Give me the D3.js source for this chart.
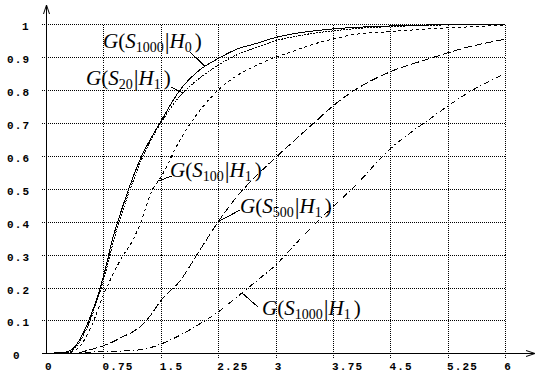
<!DOCTYPE html>
<html>
<head>
<meta charset="utf-8">
<script src="https://cdn.jsdelivr.net/npm/d3@7"></script>
<style>
  body { margin: 0; background: #fff; }
  svg { display: block; }
</style>
</head>
<body>
<div class="chartArea"></div>
<script>
// sample points along x, shared by all five curves
const xs = [0, 0.25, 0.375, 0.5, 0.625, 0.75, 0.875, 1, 1.125, 1.25, 1.375, 1.5,
            1.75, 2, 2.25, 2.5, 2.75, 3, 3.25, 3.5, 3.75, 4, 4.5, 5, 5.5, 6]

// G(S1000|H0) - solid
const h0S1000 = [0, 0.003, 0.02, 0.068, 0.14, 0.233, 0.352, 0.445, 0.528, 0.6, 0.655, 0.705,
                 0.8, 0.86, 0.896, 0.925, 0.942, 0.96, 0.972, 0.98, 0.986, 0.99, 0.995, 0.998, 0.999, 1]
// G(S20|H1) - fine dots
const h1S20 = [0, 0, 0.015, 0.06, 0.13, 0.222, 0.335, 0.432, 0.515, 0.59, 0.65, 0.7,
               0.782, 0.835, 0.876, 0.908, 0.93, 0.95, 0.963, 0.973, 0.98, 0.986, 0.993, 0.997, 0.999, 1]
// G(S100|H1) - short dashes
const h1S100 = [0, 0, 0.008, 0.04, 0.1, 0.177, 0.24, 0.295, 0.34, 0.405, 0.49, 0.535,
                0.648, 0.735, 0.8, 0.845, 0.875, 0.9, 0.92, 0.94, 0.955, 0.968, 0.978, 0.986, 0.992, 0.998]
// G(S500|H1) - long dashes
const h1S500 = [0, 0, 0, 0.006, 0.014, 0.023, 0.035, 0.05, 0.064, 0.085, 0.118, 0.16,
                0.22, 0.31, 0.4, 0.478, 0.54, 0.595, 0.648, 0.7, 0.752, 0.795, 0.856, 0.895, 0.93, 0.955]
// G(S1000|H1) - dash dot
const h1S1000 = [0, 0, 0, 0.002, 0.004, 0.005, 0.006, 0.007, 0.008, 0.012, 0.018, 0.028,
                 0.055, 0.088, 0.126, 0.172, 0.22, 0.268, 0.33, 0.39, 0.446, 0.5, 0.622, 0.71, 0.79, 0.851]

const xTicks = [0, 0.75, 1.5, 2.25, 3, 3.75, 4.5, 5.25, 6]
const xTickLabels = ['0', '0.75', '1.5', '2.25', '3', '3.75', '4.5', '5.25', '6']
const yTicks = [0, 0.1, 0.2, 0.3, 0.4, 0.5, 0.6, 0.7, 0.8, 0.9, 1]
const yTickLabels = ['0', '0.1', '0.2', '0.3', '0.4', '0.5', '0.6', '0.7', '0.8', '0.9', '1']

let width = 539,
    height = 374

const svg = d3.select('.chartArea')
    .append('svg')
    .attr('width', width)
    .attr('height', height)

svg.append('rect').attr('width', width).attr('height', height).attr('fill', '#fff')

const xScale = d3.scaleLinear().domain([0, 6]).range([46, 505.3])
const yScale = d3.scaleLinear().domain([0, 1]).range([353.3, 24.3])

const px = v => Math.round(xScale(v)) + 0.5
const py = v => Math.round(yScale(v)) + 0.5

// dotted grid
const grid = svg.append('g')
    .attr('stroke', '#000')
    .attr('stroke-width', 1)
    .attr('stroke-dasharray', '1,1')
    .attr('shape-rendering', 'crispEdges')

grid.selectAll('.hgrid')
    .data(yTicks.slice(1))
    .enter().append('line')
    .attr('x1', 42).attr('x2', px(6))
    .attr('y1', d => py(d)).attr('y2', d => py(d))

grid.selectAll('.vgrid')
    .data(xTicks.slice(1))
    .enter().append('line')
    .attr('x1', d => px(d)).attr('x2', d => px(d))
    .attr('y1', py(1)).attr('y2', py(0) + 4)

// axes with arrows
const axes = svg.append('g').attr('stroke', '#000').attr('fill', 'none')
    .attr('shape-rendering', 'crispEdges')
axes.append('line').attr('x1', 42).attr('x2', 534).attr('y1', py(0)).attr('y2', py(0))
axes.append('line').attr('x1', px(0)).attr('x2', px(0)).attr('y1', py(0)).attr('y2', 5)
svg.append('path')
    .attr('d', `M${px(0) - 3},14 L${px(0)},5 L${px(0) + 3},14`)
    .attr('stroke', '#000').attr('fill', 'none')
svg.append('path')
    .attr('d', `M526,${py(0) - 3} L535,${py(0)} L526,${py(0) + 3}`)
    .attr('stroke', '#000').attr('fill', 'none')

// tick labels
const tickFont = "'Liberation Mono', 'DejaVu Sans Mono', monospace"
svg.append('g').selectAll('text')
    .data(xTicks)
    .enter().append('text')
    .attr('x', d => xScale(d) - 1)
    .attr('y', 370)
    .attr('font-family', tickFont)
    .attr('font-weight', 'bold')
    .attr('font-size', 11)
    .attr('letter-spacing', 1.2)
    .text((d, i) => xTickLabels[i])

svg.append('g').selectAll('text')
    .data(yTicks)
    .enter().append('text')
    .attr('x', (d, i) => yTickLabels[i] === '1' ? 22 : (yTickLabels[i] === '0' ? 13 : 7))
    .attr('y', d => yScale(d) + 6)
    .attr('font-family', tickFont)
    .attr('font-weight', 'bold')
    .attr('font-size', 11)
    .attr('letter-spacing', 1.2)
    .text((d, i) => yTickLabels[i])

// curves
const series = [
  {values: h0S1000, dash: null},
  {values: h1S20, dash: '2,1'},
  {values: h1S100, dash: '3,3'},
  {values: h1S500, dash: '8,3'},
  {values: h1S1000, dash: '6,3,1,3'}
]

const line = d3.line()
    .x(d => xScale(d[0]))
    .y(d => yScale(d[1]))
    .curve(d3.curveMonotoneX)

svg.append('g').selectAll('path')
    .data(series)
    .enter().append('path')
    .attr('d', s => line(xs.map((x, i) => [x, s.values[i]])))
    .attr('fill', 'none')
    .attr('stroke', '#000')
    .attr('stroke-width', 1)
    .attr('shape-rendering', 'crispEdges')
    .attr('stroke-dasharray', s => s.dash)

// labels with leader lines
const labels = [
  {values: h0S1000, at: 2.08, sub1: '1000', sub2: '0', lx: 103, ly: 48, lead: [190, 52]},
  {values: h1S20, at: 1.79, sub1: '20', sub2: '1', lx: 86, ly: 85, lead: [171, 87]},
  {values: h1S100, at: 1.47, sub1: '100', sub2: '1', lx: 170, ly: 177, lead: [172, 176]},
  {values: h1S500, at: 2.25, sub1: '500', sub2: '1', lx: 240, ly: 213, lead: [240, 210]},
  {values: h1S1000, at: 2.56, sub1: '1000', sub2: '1', lx: 262, ly: 315, lead: [258, 307]}
]

labels.forEach(l => {
  const yAt = d3.scaleLinear().domain(xs).range(l.values)(l.at)
  svg.append('line')
      .attr('x1', l.lead[0]).attr('y1', l.lead[1])
      .attr('x2', xScale(l.at)).attr('y2', yScale(yAt))
      .attr('stroke', '#000')
      .attr('shape-rendering', 'crispEdges')

  const t = svg.append('text')
      .attr('x', l.lx).attr('y', l.ly)
      .attr('font-family', "'Liberation Serif', 'DejaVu Serif', serif")
      .attr('font-size', 21)
  t.append('tspan').attr('font-style', 'italic').text('G')
  t.append('tspan').text('(')
  t.append('tspan').attr('font-style', 'italic').text('S')
  t.append('tspan').attr('font-size', 14).attr('dy', 4).text(l.sub1)
  t.append('tspan').attr('font-size', 24).attr('dy', -3).attr('dx', 1).text('|')
  t.append('tspan').attr('font-style', 'italic').attr('dy', -1).text('H')
  t.append('tspan').attr('font-size', 14).attr('dy', 4).text(l.sub2)
  t.append('tspan').attr('dy', -4).attr('dx', 3).text(')')
})
</script>
</body>
</html>
